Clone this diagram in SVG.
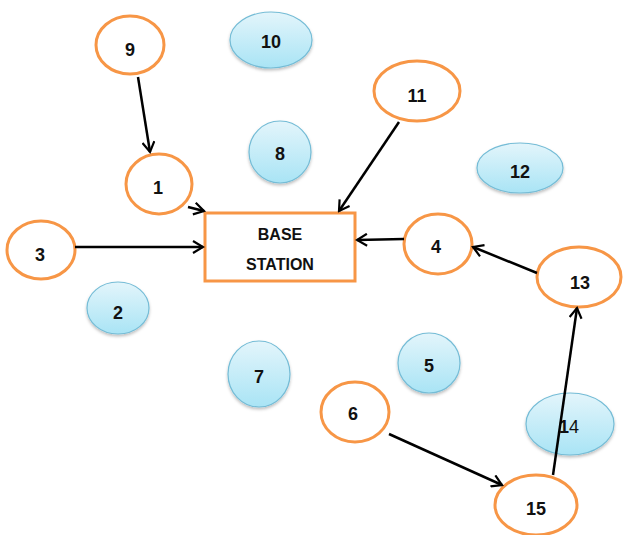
<svg xmlns="http://www.w3.org/2000/svg" width="626" height="535" viewBox="0 0 626 535">
<defs>
<linearGradient id="blueGrad" x1="0" y1="0" x2="0" y2="1">
<stop offset="0" stop-color="#e3f5fb"/>
<stop offset="1" stop-color="#a9e4f5"/>
</linearGradient>
<filter id="shadow" x="-20%" y="-20%" width="140%" height="150%">
<feDropShadow dx="0" dy="2" stdDeviation="1.5" flood-color="#000" flood-opacity="0.25"/>
</filter>
<marker id="arrow" viewBox="0 0 14 14" refX="12" refY="7" markerWidth="14" markerHeight="14" markerUnits="userSpaceOnUse" orient="auto">
<path d="M2,1 L12,7 L2,13" fill="none" stroke="#000" stroke-width="2.2"/>
</marker>
<style>
.on{fill:#fff;stroke:#f79646;stroke-width:3}
.off{fill:url(#blueGrad);stroke:#74bcd6;stroke-width:1.2;filter:url(#shadow)}
.lbl{font-family:"Liberation Sans",Arial,sans-serif;font-weight:bold;font-size:18px;fill:#111;text-anchor:middle}
.bs{font-family:"Liberation Sans",Arial,sans-serif;font-weight:bold;font-size:16px;fill:#111;text-anchor:middle}
.edge{stroke:#000;stroke-width:2.5;fill:none;marker-end:url(#arrow)}
</style>
</defs>
<rect width="626" height="535" fill="#fff"/>
<g id="node-10"><ellipse class="off" cx="271" cy="40" rx="41" ry="28"/><text class="lbl" x="271" y="48">10</text></g>
<g id="node-8"><ellipse class="off" cx="280" cy="152" rx="31" ry="31"/><text class="lbl" x="280" y="160">8</text></g>
<g id="node-12"><ellipse class="off" cx="520" cy="168" rx="43" ry="25"/><text class="lbl" x="520" y="178">12</text></g>
<g id="node-2"><ellipse class="off" cx="118" cy="308" rx="31" ry="26"/><text class="lbl" x="118" y="319">2</text></g>
<g id="node-7"><ellipse class="off" cx="259" cy="374" rx="31" ry="33"/><text class="lbl" x="259" y="383">7</text></g>
<g id="node-5"><ellipse class="off" cx="429" cy="363" rx="31" ry="30"/><text class="lbl" x="429" y="372">5</text></g>
<g id="node-14"><ellipse class="off" cx="570" cy="424" rx="44" ry="31"/><text class="lbl" x="569" y="433">1<tspan font-weight="normal">4</tspan></text></g>
<g id="node-9"><ellipse class="on" cx="130" cy="45" rx="34" ry="29"/><text class="lbl" x="130" y="56">9</text></g>
<g id="node-1"><ellipse class="on" cx="159" cy="184" rx="33" ry="30"/><text class="lbl" x="158" y="194">1</text></g>
<g id="node-3"><ellipse class="on" cx="41" cy="250" rx="34" ry="29"/><text class="lbl" x="40" y="261">3</text></g>
<g id="node-11"><ellipse class="on" cx="417" cy="91" rx="43" ry="30"/><text class="lbl" x="417" y="102">11</text></g>
<g id="node-4"><ellipse class="on" cx="438" cy="244" rx="34" ry="30"/><text class="lbl" x="436" y="253">4</text></g>
<g id="node-13"><ellipse class="on" cx="579" cy="277" rx="42" ry="30"/><text class="lbl" x="580" y="289">13</text></g>
<g id="node-6"><ellipse class="on" cx="355" cy="412" rx="34" ry="30"/><text class="lbl" x="353" y="420">6</text></g>
<g id="node-15"><ellipse class="on" cx="536" cy="505" rx="41" ry="30"/><text class="lbl" x="536" y="515">15</text></g>
<g id="base-station"><rect x="205" y="213" width="150" height="68" fill="#fff" stroke="#f79646" stroke-width="3"/><text class="bs" x="280" y="240">BASE</text><text class="bs" x="280" y="270">STATION</text></g>
<g id="connectors">
<line class="edge" x1="138" y1="77" x2="150" y2="152"/>
<line class="edge" x1="188" y1="207" x2="204" y2="211"/>
<line class="edge" x1="75" y1="247" x2="203" y2="247"/>
<line class="edge" x1="399" y1="122" x2="339" y2="211"/>
<line class="edge" x1="404" y1="239" x2="357" y2="240"/>
<line class="edge" x1="537" y1="273" x2="473" y2="247"/>
<line class="edge" x1="389" y1="434" x2="502" y2="485"/>
<line class="edge" x1="553" y1="475" x2="577" y2="308"/>
</g>
</svg>
